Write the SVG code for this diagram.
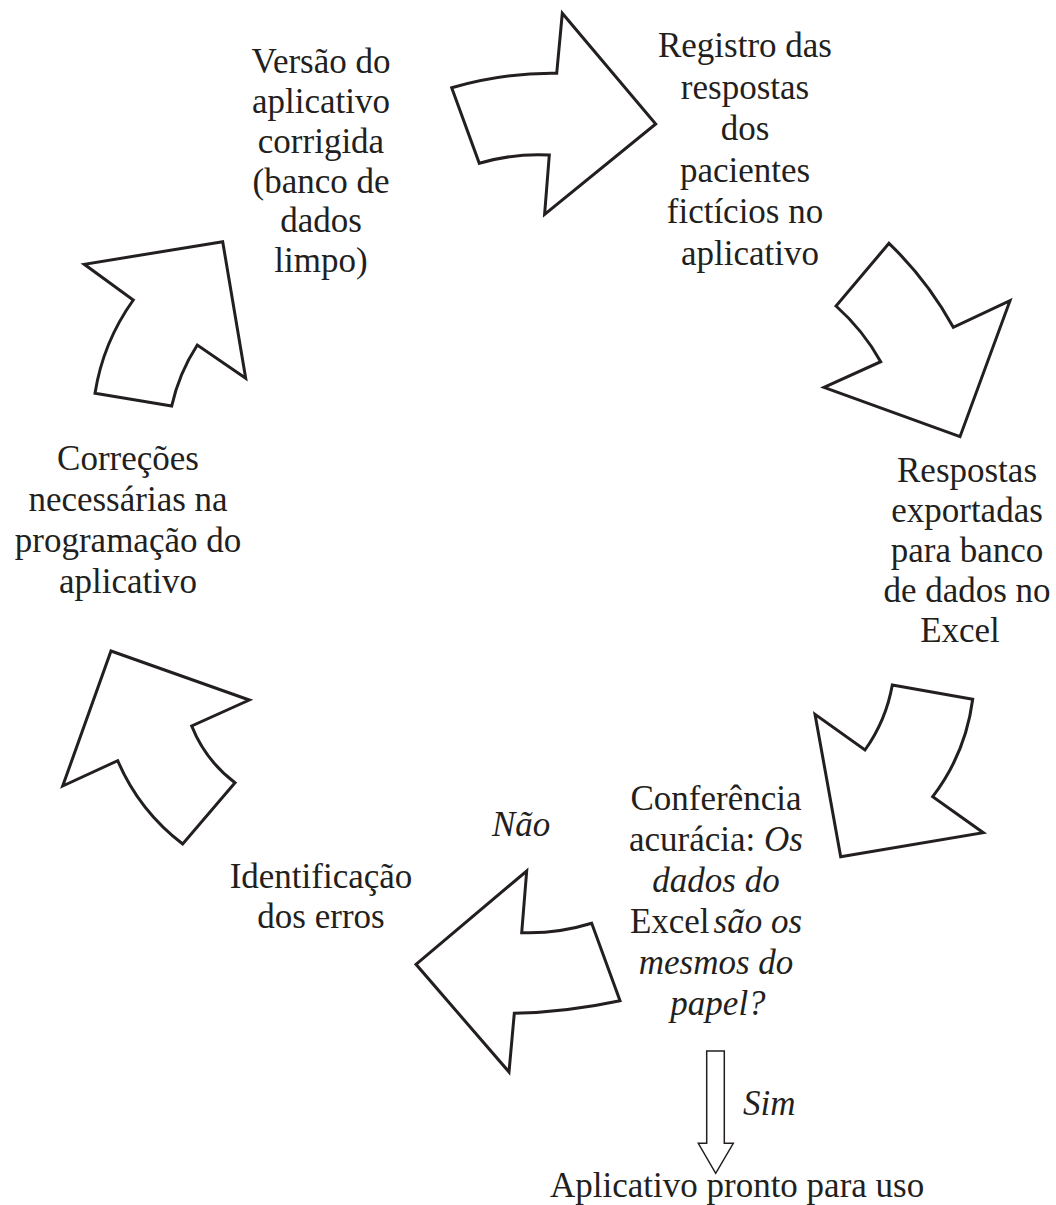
<svg xmlns="http://www.w3.org/2000/svg" width="1056" height="1205" viewBox="0 0 1056 1205">
<style>
.bg{fill:#ffffff}
.arrow{fill:#ffffff;stroke:#231f20;stroke-width:3;stroke-linejoin:miter}
.thin{fill:#ffffff;stroke:#231f20;stroke-width:1.5}
text{font-family:"Liberation Serif","Times New Roman",serif;font-size:35px;fill:#231f20}
.c{text-anchor:middle}
.i{font-style:italic}
</style>
<rect class="bg" x="0" y="0" width="1056" height="1205"/>
<g id="connectors">
<path id="arrow1" class="arrow" d="M451.7,87.7 Q504,72.5 556.7,73.3 L562.3,13.3 L655.7,124 L544.6,214.4 L549.3,155 Q514,153 479.3,163.3 Z"/>
<path id="arrow2" class="arrow" d="M889,243.3 L836,306 Q863,330 880.7,361.7 L824,387.3 L960,436.7 L1010,300.7 L953.3,327.3 Q927.5,280.4 889,243.3 Z"/>
<path id="arrow3" class="arrow" d="M892.3,685 L972.7,699.3 Q965.7,753.3 932.7,796.7 L983.3,832.7 L840.7,856.7 L815,714.3 L865,750 Q886,720.6 892.3,685 Z"/>
<path id="arrow4" class="arrow" d="M526.7,871 L521.7,932.7 Q557,934 591.7,923.3 L620,1000.7 Q567.5,1012 514.3,1013.3 L509,1072 L416,964.3 Z"/>
<path id="arrow5" class="arrow" d="M111,651 L249.3,700 L191.7,726 Q205.4,760.4 235,782.7 L182.7,844 Q139.2,810.9 117.7,760.7 L62.7,786 Z"/>
<path id="arrow6" class="arrow" d="M222.7,241.7 L84.3,264.3 L133.3,300 Q103.1,342.1 95,393.3 L171.7,406 Q179,373.2 197.3,345 L245.7,378.3 Z"/>
<path id="arrowSim" class="thin" d="M706.7,1051 H724.3 V1143.3 H733.3 L715.7,1173.3 L698.3,1143.3 H706.7 Z"/>
</g>
<g id="node-versao">
<text class="c" x="321" y="73">Versão do</text>
<text class="c" x="321" y="113">aplicativo</text>
<text class="c" x="321" y="153">corrigida</text>
<text class="c" x="321" y="193">(banco de</text>
<text class="c" x="321" y="232">dados</text>
<text class="c" x="321" y="272">limpo)</text>
</g>
<g id="node-registro">
<text class="c" x="745" y="57">Registro das</text>
<text class="c" x="745" y="99">respostas</text>
<text class="c" x="745" y="140">dos</text>
<text class="c" x="745" y="182">pacientes</text>
<text class="c" x="745" y="223">fictícios no</text>
<text class="c" x="750" y="265">aplicativo</text>
</g>
<g id="node-respostas">
<text class="c" x="967" y="482">Respostas</text>
<text class="c" x="967" y="522">exportadas</text>
<text class="c" x="967" y="562">para banco</text>
<text class="c" x="967" y="602">de dados no</text>
<text class="c" x="960" y="642">Excel</text>
</g>
<g id="node-conferencia">
<text class="c" x="716" y="810">Conferência</text>
<text class="c" x="716" y="851">acurácia: <tspan class="i">Os</tspan></text>
<text class="c i" x="716" y="892">dados do</text>
<text class="c" x="716" y="933">Excel<tspan class="i" dx="4">são os</tspan></text>
<text class="c i" x="716" y="974">mesmos do</text>
<text class="c i" x="718" y="1015">papel?</text>
</g>
<g id="node-identificacao">
<text class="c" x="321" y="888">Identificação</text>
<text class="c" x="321" y="928">dos erros</text>
</g>
<g id="node-correcoes">
<text class="c" x="128" y="470">Correções</text>
<text class="c" x="128" y="511">necessárias na</text>
<text class="c" x="128" y="552">programação do</text>
<text class="c" x="128" y="593">aplicativo</text>
</g>
<g id="label-nao">
<text class="i" x="492" y="836">Não</text>
</g>
<g id="label-sim">
<text class="i" x="743" y="1115">Sim</text>
</g>
<g id="node-pronto">
<text x="550" y="1197">Aplicativo pronto para uso</text>
</g>
</svg>
